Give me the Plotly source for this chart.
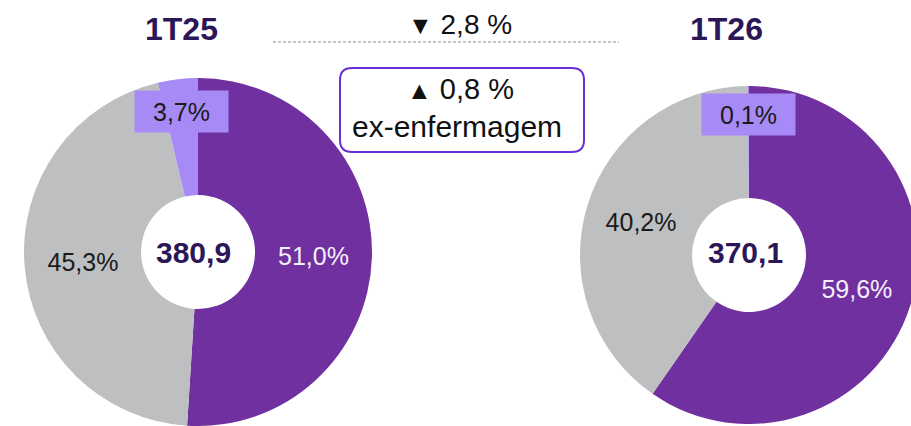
import plotly.graph_objects as go

# =========================================================
# DADOS
# =========================================================

W, H = 930, 426  # largura maior que a janela: a rosca da direita sai da borda
OFF = 0

categorias = ["Segmento 1", "Segmento 2", "Enfermagem"]
valores_1t25 = [51.0, 45.3, 3.7]
valores_1t26 = [59.6, 40.2, 0.1]
periodos = ["1T25", "1T26"]
totais = [380.9, 370.1]
var_total = 2.8
var_ex = 0.8

cores = ["#7030A0", "#BEBFC1", "#A78AF6"]
cor_titulo = "#2B1658"
fonte = "Liberation Sans, Arial, sans-serif"


def fmt(v, dec=1):
    return f"{v:.{dec}f}".replace(".", ",")


def px_x(x):
    return (x - OFF) / W


def px_y(y):
    return 1 - (y - OFF) / H


def dominio(cx, cy, r):
    return dict(
        x=[max(0, px_x(cx - r)), min(1, px_x(cx + r))],
        y=[max(0, px_y(cy + r)), min(1, px_y(cy - r))],
    )


# centro e raio de cada rosca (px na tela)
pizzas = [
    dict(cx=198, cy=252, r=174, valores=valores_1t25),
    dict(cx=749, cy=255, r=169, valores=valores_1t26),
]

fig = go.Figure()

for p in pizzas:
    fig.add_trace(
        go.Pie(
            labels=categorias,
            values=p["valores"],
            domain=dominio(p["cx"], p["cy"], p["r"]),
            hole=57 / p["r"],
            sort=False,
            direction="clockwise",
            rotation=0,
            marker=dict(colors=cores, line=dict(width=0)),
            texttemplate="%{value:.1f}%",
            textposition=["inside", "inside", "none"],
            insidetextorientation="horizontal",
            insidetextfont=dict(
                family=fonte, size=25,
                color=["#F4F0FA", "#1A1A1A", "#1A1A1A"]
            ),
            showlegend=False,
        )
    )

# =========================================================
# ANOTAÇÕES
# =========================================================

anots = []

# títulos
for txt, x in zip(periodos, [181, 726]):
    anots.append(dict(
        x=px_x(x), y=px_y(29), text=f"<b>{txt}</b>",
        font=dict(family=fonte, size=32, color=cor_titulo),
    ))

# totais no centro
for tot, x in zip(totais, [193, 745]):
    anots.append(dict(
        x=px_x(x), y=px_y(252), text=f"<b>{fmt(tot)}</b>",
        font=dict(family=fonte, size=30, color=cor_titulo),
    ))

# rótulos das fatias pequenas
for vals, (x, y) in zip([valores_1t25, valores_1t26], [(181.5, 111.5), (748.5, 114.5)]):
    anots.append(dict(
        x=px_x(x), y=px_y(y), text=f"{fmt(vals[2])}%",
        width=93, height=41, bgcolor=cores[2], borderpad=0,
        font=dict(family=fonte, size=25, color="#1A1A1A"),
    ))

# variações
anots.append(dict(
    x=px_x(460), y=px_y(24),
    text=f"<span style='font-size:25px'>▼</span> {fmt(var_total)} %",
    font=dict(family=fonte, size=28, color="#111111"),
))
anots.append(dict(
    x=px_x(460), y=px_y(89),
    text=f"<span style='font-size:25px'>▲</span> {fmt(var_ex)} %",
    font=dict(family=fonte, size=29, color="#111111"),
))
anots.append(dict(
    x=px_x(457), y=px_y(127), text="ex-enfermagem",
    font=dict(family=fonte, size=30, color="#111111"),
))

for a in anots:
    a.update(xref="paper", yref="paper", showarrow=False,
             xanchor="center", yanchor="middle")

# =========================================================
# FORMAS
# =========================================================

x0, x1, y0, y1, rr = 340, 584, 68, 152, 12
caixa = (
    f"M {px_x(x0 + rr)},{px_y(y0)} L {px_x(x1 - rr)},{px_y(y0)} "
    f"Q {px_x(x1)},{px_y(y0)} {px_x(x1)},{px_y(y0 + rr)} "
    f"L {px_x(x1)},{px_y(y1 - rr)} "
    f"Q {px_x(x1)},{px_y(y1)} {px_x(x1 - rr)},{px_y(y1)} "
    f"L {px_x(x0 + rr)},{px_y(y1)} "
    f"Q {px_x(x0)},{px_y(y1)} {px_x(x0)},{px_y(y1 - rr)} "
    f"L {px_x(x0)},{px_y(y0 + rr)} "
    f"Q {px_x(x0)},{px_y(y0)} {px_x(x0 + rr)},{px_y(y0)} Z"
)

formas = [
    dict(
        type="line", xref="paper", yref="paper",
        x0=px_x(273), x1=px_x(619), y0=px_y(42), y1=px_y(42),
        line=dict(color="#8A8A8A", width=1, dash="3px,2px"),
    ),
    dict(
        type="path", xref="paper", yref="paper", path=caixa,
        line=dict(color="#6A2FD6", width=2), fillcolor="rgba(0,0,0,0)",
    ),
]

fig.update_layout(
    width=W,
    height=H,
    margin=dict(l=0, r=0, t=0, b=0),
    paper_bgcolor="white",
    plot_bgcolor="white",
    separators=",.",
    font=dict(family=fonte),
    annotations=anots,
    shapes=formas,
)

# página sem margem nem barras de rolagem
fig.write_html(
    "out.html",
    config={"displayModeBar": False},
    post_script=(
        "document.body.style.margin='0';"
        "document.documentElement.style.overflow='hidden';"
    ),
)
